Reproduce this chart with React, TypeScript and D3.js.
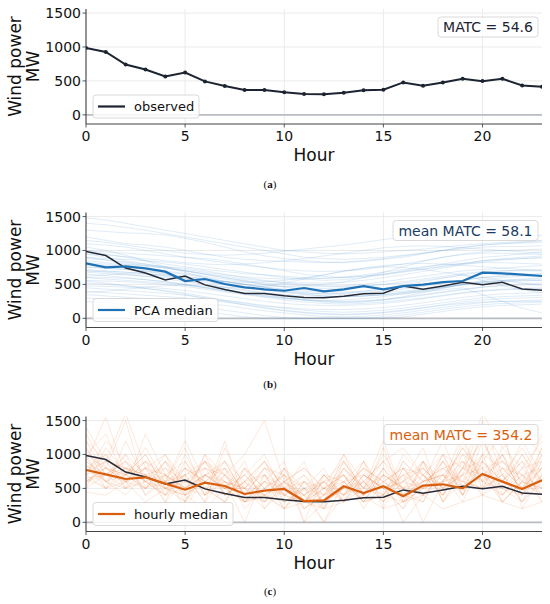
import React from "react";
import * as d3 from "d3";

const hours: number[] = d3.range(24);
const yTicks: number[] = [0, 500, 1000, 1500];
const xTicks: number[] = [0, 5, 10, 15, 20];

const observed: number[] = [985, 926, 741, 668, 566, 624, 493, 424, 366, 366, 332, 307, 303, 327, 361, 370, 478, 429, 478, 531, 497, 531, 434, 414];

const pcaMedian: number[] = [811, 752, 767, 737, 688, 550, 580, 506, 457, 428, 407, 447, 398, 428, 476, 428, 476, 496, 535, 550, 673, 664, 643, 624];

const hourlyMedian: number[] = [772, 708, 639, 664, 570, 481, 585, 536, 418, 467, 492, 314, 325, 531, 432, 531, 384, 541, 561, 502, 713, 600, 492, 620];

const pcaSamples: number[][] = [
  [1480, 1450, 1400, 1350, 1300, 1250, 1200, 1150, 1100, 1050, 1000, 980, 960, 950, 960, 980, 1000, 1020, 1050, 1080, 1100, 1120, 1130, 1150],
  [1300, 1280, 1260, 1250, 1230, 1180, 1120, 1050, 980, 920, 880, 850, 830, 820, 840, 870, 900, 950, 1000, 1050, 1080, 1100, 1110, 1120],
  [1200, 1150, 1100, 1080, 1050, 1000, 950, 900, 870, 850, 840, 830, 820, 830, 850, 880, 920, 960, 1000, 1020, 1050, 1060, 1060, 1070],
  [1100, 1080, 1050, 1000, 950, 900, 860, 820, 780, 750, 720, 700, 690, 700, 720, 760, 800, 850, 900, 950, 980, 1000, 1010, 1020],
  [1000, 980, 960, 940, 920, 900, 880, 850, 800, 750, 700, 650, 620, 600, 620, 650, 700, 750, 800, 850, 900, 920, 950, 980],
  [950, 900, 850, 800, 750, 700, 650, 600, 560, 520, 500, 480, 470, 480, 500, 540, 580, 620, 660, 700, 720, 740, 760, 780],
  [900, 880, 870, 850, 830, 800, 760, 720, 680, 640, 600, 580, 560, 570, 600, 640, 680, 720, 760, 800, 850, 880, 900, 920],
  [850, 820, 800, 780, 760, 740, 700, 650, 600, 560, 520, 500, 480, 470, 480, 500, 520, 560, 600, 640, 560, 480, 420, 380],
  [820, 800, 790, 770, 740, 700, 650, 600, 550, 500, 470, 450, 440, 450, 470, 500, 540, 580, 620, 660, 690, 700, 700, 700],
  [800, 780, 760, 730, 700, 660, 620, 580, 540, 500, 460, 420, 400, 390, 400, 420, 450, 480, 520, 560, 600, 620, 640, 650],
  [780, 760, 740, 700, 660, 620, 580, 540, 500, 460, 420, 380, 360, 350, 360, 380, 400, 430, 460, 500, 540, 560, 580, 600],
  [750, 740, 720, 700, 680, 650, 600, 550, 500, 450, 400, 360, 330, 320, 330, 350, 380, 420, 460, 500, 530, 550, 560, 560],
  [720, 700, 680, 660, 640, 610, 580, 540, 500, 460, 430, 400, 380, 370, 380, 400, 430, 470, 510, 560, 600, 630, 650, 660],
  [700, 680, 650, 620, 580, 540, 500, 460, 420, 380, 350, 330, 320, 320, 330, 350, 380, 410, 450, 490, 520, 540, 550, 560],
  [680, 660, 640, 620, 600, 570, 530, 490, 450, 410, 380, 350, 330, 320, 330, 340, 360, 390, 420, 450, 350, 250, 150, 80],
  [650, 630, 600, 570, 540, 500, 460, 420, 380, 340, 300, 270, 250, 240, 250, 270, 300, 340, 380, 420, 460, 490, 510, 520],
  [600, 580, 560, 540, 520, 490, 450, 410, 370, 330, 300, 280, 260, 250, 260, 280, 310, 350, 390, 430, 460, 480, 490, 500],
  [560, 550, 540, 520, 500, 470, 430, 390, 350, 310, 270, 240, 220, 210, 220, 240, 270, 300, 340, 380, 410, 430, 440, 450],
  [520, 500, 480, 460, 440, 410, 370, 330, 290, 250, 220, 200, 190, 190, 200, 220, 250, 290, 330, 370, 400, 420, 430, 440],
  [480, 470, 460, 440, 410, 370, 320, 270, 230, 190, 160, 140, 130, 130, 140, 160, 190, 230, 270, 310, 340, 360, 370, 380],
  [450, 430, 410, 390, 370, 340, 300, 260, 220, 180, 150, 120, 100, 90, 100, 120, 150, 190, 230, 270, 300, 320, 330, 340],
  [400, 380, 360, 340, 320, 300, 270, 240, 200, 160, 120, 90, 70, 60, 70, 90, 120, 160, 200, 240, 270, 290, 300, 310],
  [350, 330, 310, 290, 270, 250, 220, 190, 150, 110, 80, 50, 30, 20, 30, 50, 80, 120, 160, 200, 230, 250, 260, 270],
  [300, 280, 260, 240, 220, 190, 160, 120, 80, 40, 10, 0, 0, 0, 0, 20, 50, 90, 130, 170, 200, 220, 230, 240],
  [250, 230, 210, 190, 170, 140, 100, 60, 20, 0, 0, 0, 0, 0, 0, 0, 20, 60, 100, 140, 170, 190, 200, 210],
  [1400, 1380, 1340, 1300, 1250, 1200, 1150, 1100, 1050, 1000, 950, 900, 880, 870, 880, 900, 930, 960, 1000, 1040, 1080, 1100, 1120, 1140],
  [1000, 950, 900, 850, 800, 760, 720, 690, 660, 640, 620, 600, 590, 600, 620, 650, 690, 730, 770, 810, 850, 870, 880, 900],
  [900, 860, 820, 780, 740, 700, 660, 620, 580, 550, 530, 520, 520, 530, 560, 600, 640, 690, 740, 790, 830, 860, 880, 890],
  [760, 740, 720, 690, 650, 600, 550, 500, 460, 420, 390, 370, 360, 370, 400, 440, 490, 540, 590, 640, 680, 700, 710, 720],
  [600, 600, 590, 570, 540, 500, 450, 400, 360, 320, 290, 270, 260, 270, 290, 320, 360, 400, 450, 500, 540, 560, 570, 580],
  [1150, 1120, 1080, 1040, 1000, 960, 940, 930, 940, 960, 990, 1020, 1050, 1080, 1120, 1160, 1200, 1230, 1250, 1260, 1250, 1240, 1230, 1220],
  [950, 930, 910, 880, 850, 820, 800, 790, 800, 820, 850, 880, 920, 960, 1000, 1040, 1060, 1070, 1060, 1040, 1020, 1000, 980, 960],
  [700, 690, 680, 660, 630, 590, 560, 540, 530, 540, 560, 600, 640, 690, 740, 780, 800, 810, 800, 780, 760, 740, 720, 700],
  [550, 520, 480, 440, 400, 350, 300, 250, 200, 150, 110, 80, 60, 50, 60, 80, 110, 150, 190, 220, 240, 250, 250, 250],
  [880, 860, 830, 800, 760, 720, 680, 640, 610, 590, 580, 580, 590, 610, 640, 680, 720, 760, 790, 810, 820, 820, 810, 800],
  [620, 640, 660, 650, 620, 560, 500, 460, 450, 470, 520, 580, 640, 700, 740, 760, 750, 720, 680, 640, 600, 560, 520, 480],
  [1050, 1000, 930, 850, 760, 680, 600, 540, 500, 480, 470, 480, 500, 540, 600, 680, 760, 840, 900, 940, 960, 960, 950, 940],
  [380, 400, 430, 460, 480, 490, 480, 450, 410, 360, 310, 270, 240, 230, 240, 270, 320, 380, 440, 500, 560, 600, 620, 630],
];

const hourlySamples: number[][] = [
  [900, 1550, 700, 1100, 600, 800, 400, 1200, 300, 700, 500, 900, 200, 800, 400, 1100, 300, 900, 600, 1300, 500, 1000, 400, 800],
  [600, 800, 1500, 500, 900, 300, 700, 500, 900, 200, 600, 300, 700, 400, 900, 200, 800, 500, 1000, 400, 1200, 600, 900, 300],
  [1200, 700, 900, 600, 400, 1000, 500, 300, 600, 900, 300, 500, 0, 600, 300, 700, 500, 300, 800, 600, 900, 1300, 500, 1100],
  [800, 600, 500, 1300, 700, 500, 900, 600, 400, 300, 800, 200, 400, 900, 500, 400, 1000, 700, 400, 900, 600, 400, 700, 500],
  [700, 900, 800, 600, 1000, 400, 600, 800, 200, 500, 700, 400, 600, 300, 700, 500, 200, 900, 500, 700, 1500, 700, 300, 900],
  [1000, 500, 600, 800, 500, 700, 300, 1100, 500, 400, 200, 600, 300, 500, 600, 900, 400, 600, 1200, 500, 800, 900, 600, 400],
  [500, 1100, 700, 500, 800, 600, 800, 400, 700, 1000, 400, 300, 500, 700, 200, 600, 800, 400, 700, 1000, 500, 700, 1100, 600],
  [1300, 800, 600, 900, 400, 500, 700, 500, 300, 600, 900, 0, 700, 400, 800, 300, 600, 1100, 300, 800, 700, 500, 800, 1200],
  [650, 700, 1000, 400, 700, 900, 400, 600, 500, 200, 500, 700, 300, 1000, 400, 800, 300, 500, 900, 400, 1000, 1400, 200, 700],
  [900, 600, 400, 700, 500, 300, 1000, 700, 400, 800, 600, 400, 200, 600, 900, 500, 700, 0, 600, 1100, 700, 300, 600, 900],
  [750, 1000, 700, 800, 300, 600, 500, 900, 600, 400, 300, 500, 800, 300, 500, 1200, 400, 800, 500, 700, 400, 800, 500, 1000],
  [1100, 700, 800, 500, 600, 1200, 600, 300, 800, 500, 700, 200, 400, 700, 300, 400, 900, 600, 700, 300, 900, 600, 1000, 500],
  [550, 900, 500, 700, 800, 400, 700, 600, 0, 700, 400, 600, 300, 500, 800, 600, 300, 700, 400, 800, 600, 1000, 400, 700],
  [850, 500, 1200, 600, 500, 700, 900, 400, 600, 300, 800, 300, 600, 900, 400, 700, 500, 900, 300, 600, 1300, 400, 700, 300],
  [700, 800, 600, 900, 700, 500, 400, 800, 500, 900, 500, 400, 0, 400, 600, 300, 800, 400, 1000, 500, 700, 900, 500, 800],
  [1000, 1300, 600, 700, 400, 800, 600, 500, 700, 400, 600, 800, 500, 300, 700, 500, 200, 600, 800, 900, 400, 600, 900, 600],
  [600, 700, 900, 400, 600, 300, 800, 700, 300, 600, 200, 500, 400, 800, 500, 900, 600, 500, 600, 700, 1000, 300, 600, 1300],
  [950, 600, 700, 1000, 500, 600, 500, 300, 800, 500, 400, 300, 700, 600, 300, 400, 700, 800, 400, 1000, 800, 500, 300, 700],
  [800, 1000, 500, 600, 900, 500, 700, 900, 400, 800, 700, 0, 300, 500, 800, 600, 400, 300, 900, 600, 500, 1100, 800, 400],
  [700, 500, 800, 700, 300, 900, 500, 600, 500, 300, 500, 600, 500, 700, 400, 800, 500, 700, 500, 800, 1200, 700, 400, 1000],
  [1200, 900, 600, 500, 700, 400, 1000, 400, 600, 700, 300, 400, 600, 400, 600, 300, 900, 600, 700, 400, 900, 500, 1000, 600],
  [600, 800, 700, 900, 600, 700, 300, 700, 300, 500, 800, 500, 200, 900, 500, 700, 0, 400, 600, 1100, 600, 800, 500, 800],
  [850, 600, 1000, 700, 500, 800, 600, 500, 700, 400, 600, 300, 500, 400, 700, 500, 600, 900, 300, 700, 800, 300, 600, 500],
  [500, 700, 600, 800, 700, 200, 700, 800, 400, 600, 400, 700, 400, 600, 300, 800, 400, 600, 800, 500, 1400, 900, 700, 400],
  [1000, 800, 700, 500, 900, 600, 500, 400, 600, 900, 500, 300, 600, 300, 900, 400, 700, 500, 600, 900, 700, 400, 800, 900],
  [700, 1200, 900, 600, 400, 700, 800, 600, 300, 400, 700, 500, 300, 800, 500, 1000, 500, 400, 700, 600, 500, 700, 300, 600],
  [900, 700, 500, 800, 600, 1100, 400, 700, 500, 700, 200, 600, 400, 500, 400, 600, 800, 700, 400, 800, 900, 600, 1200, 700],
  [750, 900, 800, 600, 700, 500, 900, 500, 800, 300, 600, 400, 700, 300, 600, 400, 300, 500, 900, 400, 700, 1000, 600, 500],
  [650, 500, 700, 1000, 500, 400, 600, 900, 400, 600, 500, 200, 500, 600, 700, 500, 600, 800, 500, 1200, 600, 500, 400, 1100],
  [1100, 600, 800, 700, 600, 500, 700, 500, 500, 800, 400, 500, 600, 700, 300, 700, 500, 600, 700, 500, 1000, 800, 700, 800],
  [1400, 900, 1600, 800, 1000, 600, 900, 700, 1000, 1500, 600, 800, 500, 1000, 600, 900, 1100, 700, 1000, 800, 1600, 1100, 1300, 1000],
  [450, 400, 600, 300, 500, 400, 200, 500, 300, 400, 200, 300, 200, 300, 400, 200, 300, 400, 200, 300, 400, 300, 200, 300],
];

const W = 550;
const H = 604;
const LEFT = 86;
const RIGHT = 542;
const PH = 115;
const FONT = "DejaVu Sans, sans-serif";

type Panel = {
  top: number;
  caption: string;
  samples: number[][] | null;
  sampleColor: string;
  sampleOpacity: number;
  median: number[] | null;
  medianColor: string;
  legendLabel: string;
  legendColor: string;
  legendW: number;
  annot: string;
  annotColor: string;
  annotW: number;
  captionY: number;
};

const panels: Panel[] = [
  {
    top: 9, caption: "a", samples: null, sampleColor: "", sampleOpacity: 0,
    median: null, medianColor: "", legendLabel: "observed", legendColor: "#1c2331",
    legendW: 106, annot: "MATC = 54.6", annotColor: "#1c2331", annotW: 100, captionY: 188,
  },
  {
    top: 212.5, caption: "b", samples: pcaSamples, sampleColor: "#4a90d0", sampleOpacity: 0.19,
    median: pcaMedian, medianColor: "#1f72b6", legendLabel: "PCA median", legendColor: "#1f72b6",
    legendW: 125, annot: "mean MATC = 58.1", annotColor: "#1b3b60", annotW: 145, captionY: 388,
  },
  {
    top: 416.5, caption: "c", samples: hourlySamples, sampleColor: "#f08a4b", sampleOpacity: 0.22,
    median: hourlyMedian, medianColor: "#d95f0e", legendLabel: "hourly median", legendColor: "#d95f0e",
    legendW: 140, annot: "mean MATC = 354.2", annotColor: "#d95f0e", annotW: 154, captionY: 595,
  },
];

function PanelView({ p, idx }: { p: Panel; idx: number }) {
  const x = d3.scaleLinear().domain([0, 23]).range([LEFT, RIGHT]);
  const y = d3.scaleLinear().domain([-135, 1560]).range([p.top + PH, p.top]);
  const line = d3.line<number>().x((_, i) => x(hours[i])).y((v) => y(v));
  const bottom = p.top + PH;
  const clipId = `clip${idx}`;
  return (
    <g>
      <defs>
        <clipPath id={clipId}>
          <rect x={LEFT} y={p.top} width={RIGHT - LEFT} height={PH} />
        </clipPath>
      </defs>
      {xTicks.map((t) => (
        <line key={"gx" + t} x1={x(t)} x2={x(t)} y1={p.top} y2={bottom} stroke="#e6e6e6" strokeWidth={0.8} />
      ))}
      {yTicks.map((t) => (
        <line key={"gy" + t} x1={LEFT} x2={RIGHT} y1={y(t)} y2={y(t)} stroke="#e6e6e6" strokeWidth={0.8} />
      ))}
      <line x1={LEFT} x2={RIGHT} y1={y(0)} y2={y(0)} stroke="#b9bdc3" strokeWidth={1.8} />
      <g clipPath={`url(#${clipId})`}>
        {p.samples &&
          p.samples.map((s, i) => (
            <path key={i} d={line(s) || ""} fill="none" stroke={p.sampleColor} strokeOpacity={p.sampleOpacity} strokeWidth={0.9} />
          ))}
        {p.median ? (
          <>
            <path d={line(observed) || ""} fill="none" stroke="#252b38" strokeWidth={1.5} />
            <path d={line(p.median) || ""} fill="none" stroke={p.medianColor} strokeWidth={2.2} />
          </>
        ) : (
          <>
            <path d={line(observed) || ""} fill="none" stroke="#1c2331" strokeWidth={2} />
            {observed.map((v, i) => (
              <circle key={i} cx={x(hours[i])} cy={y(v)} r={2} fill="#1c2331" />
            ))}
          </>
        )}
      </g>
      <line x1={LEFT} x2={LEFT} y1={p.top} y2={bottom} stroke="#333" strokeWidth={1} />
      <line x1={LEFT} x2={RIGHT} y1={bottom} y2={bottom} stroke="#444" strokeWidth={1.2} />
      {yTicks.map((t) => (
        <g key={"ty" + t}>
          <line x1={LEFT - 3.5} x2={LEFT} y1={y(t)} y2={y(t)} stroke="#333" strokeWidth={0.8} />
          <text x={LEFT - 5} y={y(t) + 5} textAnchor="end" fontFamily={FONT} fontSize={14} fill="#111">
            {t}
          </text>
        </g>
      ))}
      {xTicks.map((t) => (
        <g key={"tx" + t}>
          <line x1={x(t)} x2={x(t)} y1={bottom} y2={bottom + 3.5} stroke="#333" strokeWidth={0.8} />
          <text x={x(t)} y={bottom + 17} textAnchor="middle" fontFamily={FONT} fontSize={14} fill="#111">
            {t}
          </text>
        </g>
      ))}
      <text x={(LEFT + RIGHT) / 2} y={bottom + 37} textAnchor="middle" fontFamily={FONT} fontSize={17} fill="#111">
        Hour
      </text>
      <g transform={`translate(0, ${p.top + PH / 2}) rotate(-90)`}>
        <text x={0} y={21} textAnchor="middle" fontFamily={FONT} fontSize={17} fill="#111">
          Wind power
        </text>
        <text x={0} y={39} textAnchor="middle" fontFamily={FONT} fontSize={17} fill="#111">
          MW
        </text>
      </g>
      <rect x={93} y={bottom - 29} width={p.legendW} height={23} rx={3} fill="#fff" fillOpacity={0.85} stroke="#d0d0d0" strokeWidth={0.8} />
      <line x1={98} x2={125} y1={bottom - 17.5} y2={bottom - 17.5} stroke={p.legendColor} strokeWidth={2.2} />
      <text x={134} y={bottom - 13} fontFamily={FONT} fontSize={13} fill="#111">
        {p.legendLabel}
      </text>
      <rect x={538 - p.annotW} y={p.top + 8} width={p.annotW} height={20} rx={3} fill="#fff" fillOpacity={0.85} stroke="#d0d0d0" strokeWidth={0.8} />
      <text x={538 - p.annotW / 2} y={p.top + 23} textAnchor="middle" fontFamily={FONT} fontSize={14} fill={p.annotColor}>
        {p.annot}
      </text>
      <text x={270} y={p.captionY} textAnchor="middle" fontFamily="Liberation Serif, serif" fontSize={11} fill="#111">
        (<tspan fontWeight="bold">{p.caption}</tspan>)
      </text>
    </g>
  );
}

export default function App() {
  return (
    <svg width={W} height={H} style={{ position: "absolute", left: 0, top: 0, background: "#fff" }}>
      <rect x={0} y={0} width={W} height={H} fill="#fff" />
      {panels.map((p, i) => (
        <PanelView key={i} p={p} idx={i} />
      ))}
    </svg>
  );
}
